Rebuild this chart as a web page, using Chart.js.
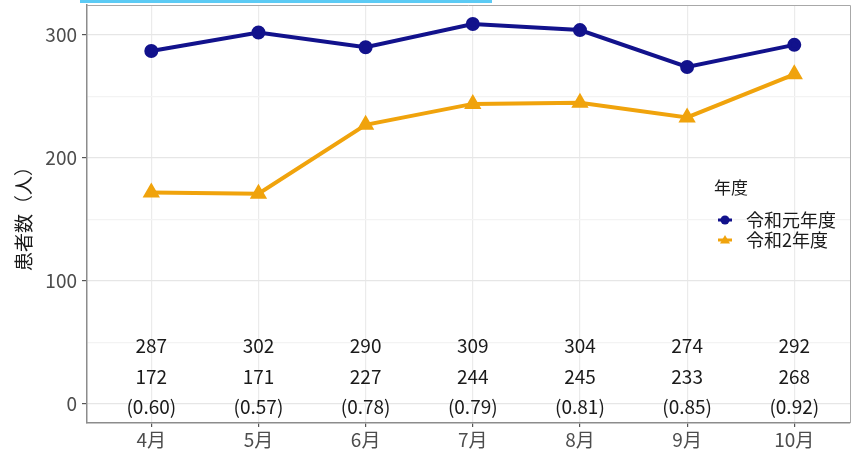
<!DOCTYPE html>
<html>
<head>
<meta charset="utf-8">
<script src="https://cdn.jsdelivr.net/npm/chart.js"></script>
<style>
    html, body { margin: 0; padding: 0; background: #ffffff; }
    #wrap { width: 853px; height: 453px; position: relative; }
</style>
</head>
<body>
<div id="wrap"><canvas id="patientChart" width="853" height="453"></canvas></div>
<script>
// Chart data
const months = ['4月', '5月', '6月', '7月', '8月', '9月', '10月'];
const seriesNames = ['令和元年度', '令和2年度'];
const reiwa1 = [287, 302, 290, 309, 304, 274, 292];
const reiwa2 = [172, 171, 227, 244, 245, 233, 268];
const ratios = ['0.60', '0.57', '0.78', '0.79', '0.81', '0.85', '0.92'];
const yMajorTicks = [0, 100, 200, 300];
const yMinorTicks = [50, 150, 250];
const legendTitle = '年度';
const yTitle = '患者数（人）';

const FONT = "'Noto Sans CJK JP', 'Noto Sans', sans-serif";
const NAVY = '#12128c';
const ORANGE = '#f0a30c';

// Grey frame, cyan strip, value table and legend
const decorPlugin = {
    id: 'decor',
    beforeDraw(chart) {
        const ctx = chart.ctx;
        ctx.save();
        ctx.fillStyle = '#5ccbf5';
        ctx.fillRect(80, 0, 412, 3);
        ctx.restore();
    },
    afterDatasetsDraw(chart) {
        const ctx = chart.ctx;
        const area = chart.chartArea;
        const x = chart.scales.x;
        const y = chart.scales.y;

        ctx.save();
        ctx.strokeStyle = '#a8a8a8';
        ctx.lineWidth = 1;
        ctx.beginPath();
        ctx.moveTo(area.left, area.top + 0.5);
        ctx.lineTo(area.right + 0.5, area.top + 0.5);
        ctx.lineTo(area.right + 0.5, area.bottom);
        ctx.stroke();

        // value rows under the lines
        ctx.fillStyle = '#1a1a1a';
        ctx.font = '19px ' + FONT;
        ctx.textAlign = 'center';
        ctx.textBaseline = 'middle';
        months.forEach((m, i) => {
            const px = x.getPixelForValue(i);
            ctx.fillText(String(reiwa1[i]), px, y.getPixelForValue(47));
            ctx.fillText(String(reiwa2[i]), px, y.getPixelForValue(22.5));
            ctx.fillText('(' + ratios[i] + ')', px, y.getPixelForValue(-2.5));
        });

        // legend
        ctx.textAlign = 'left';
        ctx.fillStyle = '#1a1a1a';
        ctx.font = '17px ' + FONT;
        ctx.fillText(legendTitle, 714, 188);
        ctx.font = '18px ' + FONT;
        chart.data.datasets.forEach((ds, i) => {
            const ly = 220 + i * 20;
            const lx = 725;
            ctx.strokeStyle = ds.borderColor;
            ctx.fillStyle = ds.borderColor;
            ctx.lineWidth = 3;
            ctx.beginPath();
            ctx.moveTo(lx - 7, ly);
            ctx.lineTo(lx + 7, ly);
            ctx.stroke();
            ctx.beginPath();
            if (ds.pointStyle === 'triangle') {
                ctx.moveTo(lx, ly - 5);
                ctx.lineTo(lx + 5, ly + 3.5);
                ctx.lineTo(lx - 5, ly + 3.5);
                ctx.closePath();
            } else {
                ctx.arc(lx, ly, 4.5, 0, Math.PI * 2);
            }
            ctx.fill();
            ctx.fillStyle = '#1a1a1a';
            ctx.fillText(ds.label, 746, ly);
        });
        ctx.restore();
    }
};

// no automatic label padding around the plot panel
function noPad(scale) {
    scale.paddingTop = 0;
    scale.paddingBottom = 0;
    scale.paddingLeft = 0;
    scale.paddingRight = 0;
}

const ctx = document.getElementById('patientChart').getContext('2d');
const patientChart = new Chart(ctx, {
    type: 'line',
    data: {
        datasets: [
            {
                label: seriesNames[0],
                data: reiwa1.map((v, i) => ({ x: i, y: v })),
                borderColor: NAVY,
                backgroundColor: NAVY,
                borderWidth: 4,
                pointStyle: 'circle',
                pointRadius: 5,
                tension: 0
            },
            {
                label: seriesNames[1],
                data: reiwa2.map((v, i) => ({ x: i, y: v })),
                borderColor: ORANGE,
                backgroundColor: ORANGE,
                borderWidth: 4,
                pointStyle: 'triangle',
                pointRadius: 6,
                tension: 0
            }
        ]
    },
    options: {
        responsive: false,
        animation: false,
        events: [],
        layout: { autoPadding: false, padding: { top: 5, right: 3, left: 0, bottom: 0 } },
        plugins: {
            legend: { display: false },
            tooltip: { enabled: false }
        },
        scales: {
            x: {
                type: 'linear',
                min: -0.6,
                max: 6.52,
                afterBuildTicks: scale => {
                    scale.ticks = months.map((m, i) => ({ value: i }));
                },
                afterFit: scale => { scale.height = 30; noPad(scale); },
                ticks: {
                    callback: v => months[v],
                    color: '#4d4d4d',
                    font: { family: FONT, size: 19 },
                    padding: 1,
                    maxRotation: 0
                },
                grid: {
                    color: '#ebebeb',
                    lineWidth: 1.2,
                    tickColor: '#555555',
                    tickLength: 4
                },
                border: { color: '#8c8c8c', width: 1.5 }
            },
            y: {
                min: -15.45,
                max: 324.4,
                afterBuildTicks: scale => {
                    scale.ticks = yMajorTicks.concat(yMinorTicks)
                        .sort((a, b) => a - b)
                        .map(v => ({ value: v }));
                },
                afterFit: scale => { scale.width = 87; noPad(scale); },
                ticks: {
                    callback: v => yMajorTicks.includes(v) ? String(v) : '',
                    color: '#4d4d4d',
                    font: { family: FONT, size: 19 },
                    padding: 5
                },
                grid: {
                    color: c => yMajorTicks.includes(c.tick.value) ? '#e6e6e6' : '#f3f3f3',
                    lineWidth: 1.2,
                    tickColor: c => yMajorTicks.includes(c.tick.value) ? '#555555' : 'rgba(0,0,0,0)',
                    tickLength: 5
                },
                border: { color: '#8c8c8c', width: 1.5 },
                title: {
                    display: true,
                    text: yTitle,
                    color: '#1a1a1a',
                    font: { family: FONT, size: 19 },
                    padding: { top: 12, bottom: 0 }
                }
            }
        }
    },
    plugins: [decorPlugin]
});
</script>
</body>
</html>
